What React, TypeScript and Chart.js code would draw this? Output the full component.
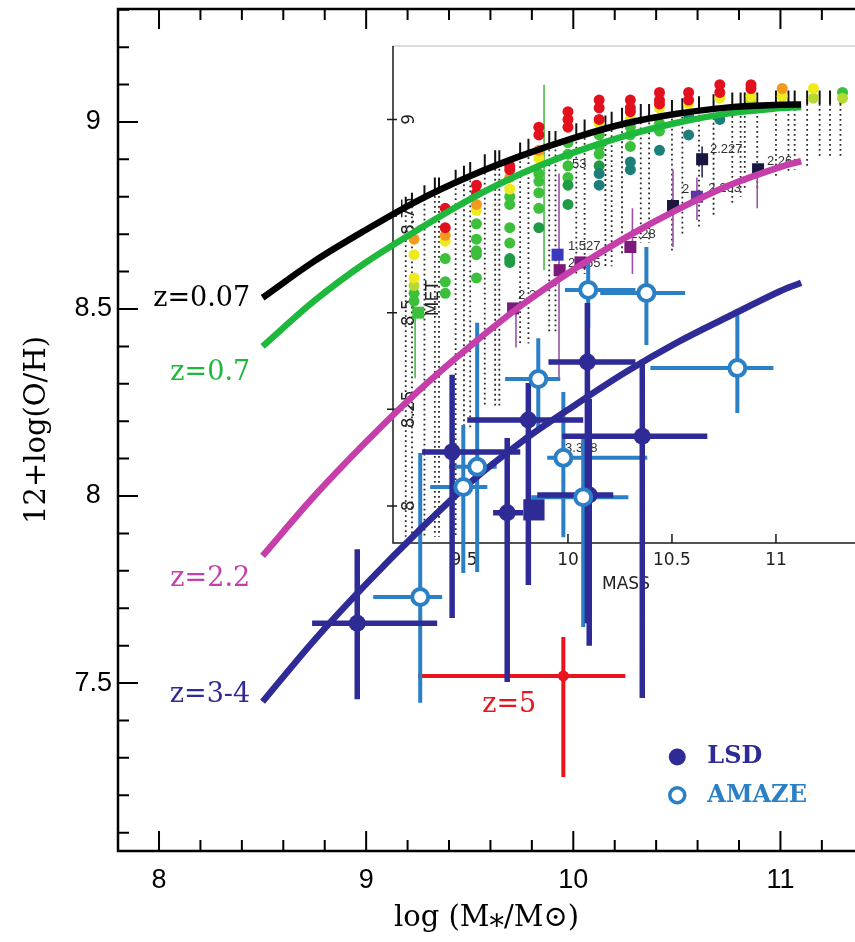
import React, { useEffect, useRef } from 'react';
import { Chart, registerables } from 'chart.js';

Chart.register(...registerables);

// ---------------- Main panel data (log M*, 12+log(O/H)) ----------------
const curveMass = [8.5, 8.75, 9.0, 9.25, 9.5, 9.75, 10.0, 10.25, 10.5, 10.75, 11.0, 11.1];
const metZ007 = [8.53, 8.628, 8.712, 8.79, 8.855, 8.91, 8.957, 8.996, 9.022, 9.039, 9.046, 9.047];
const metZ07 = [8.4, 8.522, 8.625, 8.712, 8.793, 8.862, 8.918, 8.963, 8.998, 9.023, 9.037, 9.04];
const metZ22 = [7.84, 8.0, 8.145, 8.28, 8.4, 8.51, 8.605, 8.69, 8.765, 8.83, 8.88, 8.895];
const metZ34 = [7.45, 7.615, 7.765, 7.905, 8.035, 8.145, 8.24, 8.33, 8.41, 8.48, 8.548, 8.57];

const lsdMass = [8.957, 9.415, 9.681, 9.783, 10.068, 10.333, 10.077];
const lsdMet = [7.66, 8.118, 7.955, 8.203, 8.358, 8.16, 8.003];
const lsdMassLo = [8.739, 9.27, 9.613, 9.488, 9.88, 9.947, 9.826];
const lsdMassHi = [9.343, 9.744, 9.758, 10.048, 10.3, 10.647, 10.193];
const lsdMetLo = [7.457, 7.674, 7.503, 7.762, 7.66, 7.46, 7.6];
const lsdMetHi = [7.858, 8.324, 8.155, 8.302, 8.516, 8.364, 8.26];
const lsdSquareMass = [9.81];
const lsdSquareMet = [7.963];

const amazeMass = [9.261, 9.469, 9.536, 9.831, 9.952, 10.048, 10.072, 10.353, 10.792];
const amazeMet = [7.73, 8.024, 8.078, 8.313, 8.102, 7.997, 8.551, 8.543, 8.342];
const amazeMassLo = [9.034, 9.309, 9.4, 9.671, 9.874, 9.797, 9.96, 10.13, 10.372];
const amazeMassHi = [9.367, 9.585, 9.63, 9.937, 10.357, 10.266, 10.3, 10.54, 10.966];
const amazeMetLo = [7.447, 7.794, 7.797, 8.171, 7.89, 7.65, 8.45, 8.404, 8.222];
const amazeMetHi = [8.115, 8.19, 8.463, 8.422, 8.278, 8.16, 8.64, 8.666, 8.492];

const z5Mass = [9.952];
const z5Met = [7.519];
const z5MassLo = [9.251];
const z5MassHi = [10.251];
const z5MetLo = [7.249];
const z5MetHi = [7.623];

const mainXTicks = [8, 9, 10, 11];
const mainYTicks = [7.5, 8, 8.5, 9];
const curveLabels = ['z=0.07', 'z=0.7', 'z=2.2', 'z=3-4', 'z=5'];
const legendLabels = ['LSD', 'AMAZE'];

// ---------------- Inset data (MASS, MET) ----------------
const insetXTicks = [9.5, 10, 10.5, 11];
const insetYTicks = [8, 8.25, 8.5, 8.75, 9];
const insetColMass = [9.22, 9.25, 9.31, 9.36, 9.38, 9.46, 9.5, 9.53, 9.6, 9.65, 9.67, 9.77, 9.81, 9.91, 9.94, 10.04, 10.08, 10.18, 10.21, 10.26, 10.35, 10.39, 10.5, 10.55, 10.63, 10.7, 10.79, 10.83, 10.85, 10.91, 11.0, 11.06, 11.09, 11.15, 11.21, 11.26, 11.31];
const insetColTop = [8.8, 8.81, 8.83, 8.85, 8.85, 8.87, 8.88, 8.89, 8.91, 8.92, 8.92, 8.94, 8.95, 8.97, 8.97, 8.99, 9.0, 9.01, 9.02, 9.03, 9.04, 9.04, 9.05, 9.055, 9.06, 9.065, 9.07, 9.07, 9.07, 9.07, 9.075, 9.075, 9.075, 9.075, 9.075, 9.075, 9.075];
const insetColBottom = [7.92, 7.92, 7.92, 7.92, 7.92, 7.92, 8.2, 8.2, 8.26, 8.26, 8.26, 8.42, 8.42, 8.45, 8.45, 8.6, 8.6, 8.62, 8.62, 8.65, 8.68, 8.68, 8.66, 8.7, 8.72, 8.75, 8.78, 8.8, 8.82, 8.82, 8.85, 8.86, 8.87, 8.88, 8.9, 8.9, 8.9];

const insetRed = [[9.41, 8.77], [9.41, 8.72], [9.56, 8.83], [9.56, 8.81], [9.72, 8.88], [9.72, 8.87], [9.86, 8.98], [9.86, 8.96], [10.0, 9.02], [10.0, 9.0], [10.0, 8.98], [10.15, 9.05], [10.15, 9.03], [10.15, 9.0], [10.3, 9.05], [10.3, 9.03], [10.3, 9.02], [10.44, 9.07], [10.44, 9.05], [10.44, 9.04], [10.58, 9.07], [10.58, 9.05], [10.73, 9.09], [10.73, 9.07], [10.88, 9.09], [10.88, 9.08]];
const insetOrange = [[9.26, 8.69], [9.41, 8.7], [9.56, 8.78], [9.72, 8.85], [9.86, 8.92], [11.03, 9.08]];
const insetYellow = [[9.26, 8.65], [9.26, 8.59], [9.41, 8.685], [9.56, 8.765], [9.72, 8.82], [9.86, 8.9], [10.15, 8.99], [10.3, 9.0], [10.44, 9.03], [10.58, 9.04], [10.73, 9.055], [10.88, 9.06], [11.03, 9.06], [11.18, 9.08]];
const insetLime = [[9.26, 8.57], [10.88, 9.05], [11.18, 9.055], [11.32, 9.055]];
const insetGreen = [[9.26, 8.55], [9.26, 8.53], [9.41, 8.64], [9.41, 8.58], [9.41, 8.55], [9.56, 8.73], [9.56, 8.69], [9.56, 8.66], [9.56, 8.65], [9.56, 8.59], [9.72, 8.8], [9.72, 8.78], [9.72, 8.72], [9.72, 8.68], [9.86, 8.86], [9.86, 8.84], [9.86, 8.81], [9.86, 8.77], [10.0, 8.94], [10.0, 8.91], [10.0, 8.88], [10.0, 8.85], [10.15, 8.96], [10.15, 8.93], [10.15, 8.91], [10.3, 8.98], [10.3, 8.96], [10.3, 8.93], [10.44, 8.99], [10.44, 8.97], [11.32, 9.07]];
const insetDarkGreen = [[9.72, 8.64], [9.72, 8.63], [9.86, 8.72], [10.0, 8.83], [10.0, 8.78], [10.15, 8.88]];
const insetTeal = [[10.15, 8.86], [10.15, 8.83], [10.3, 8.89], [10.3, 8.87], [10.44, 8.92], [10.58, 9.01], [10.58, 8.96], [10.73, 9.0]];

const insetGreenBars = [[9.885, 8.61, 9.09], [9.265, 8.33, 8.5]];
const insetPurpleBars = [[9.957, 8.33, 8.86], [9.75, 8.41, 8.5], [10.31, 8.6, 8.77], [10.62, 8.74, 8.85], [10.91, 8.77, 8.86], [10.505, 8.67, 8.87]];
const insetNavyBars = [[10.645, 8.85, 8.93]];

const insetNavySquares = [[10.645, 8.897], [10.914, 8.871], [10.505, 8.776]];
const insetVioletSquares = [[10.62, 8.8]];
const insetPlumSquares = [[10.3, 8.67], [9.96, 8.61], [10.06, 8.63], [9.736, 8.511]];
const insetBlueSquares = [[9.95, 8.65]];
const insetGreenSquares = [[9.28, 8.5]];

const insetNoteText = ['2.227', '2.26', '2', '2.263', '2.28', '1.527', '2.265', '2.2', '53', '3.328'];
const insetNoteMass = [10.683, 10.957, 10.548, 10.675, 10.3, 10.0, 10.0, 9.76, 10.02, 9.986];
const insetNoteMet = [8.923, 8.892, 8.82, 8.822, 8.703, 8.672, 8.628, 8.545, 8.884, 8.149];

// ---------------- helpers ----------------
const COL = {
  black: '#000000',
  green: '#1db83c',
  magenta: '#c63ea9',
  indigo: '#2e2a96',
  amaze: '#2a7fc5',
  red: '#e8141e',
};

const gap = () => ({ x: NaN, y: NaN });
const xy = (xs: number[], ys: number[]) => xs.map((x, i) => ({ x, y: ys[i] }));
const pairs = (a: number[][]) => a.map(([x, y]) => ({ x, y }));

function crossBars(xs: number[], ys: number[], xlo: number[], xhi: number[], ylo: number[], yhi: number[]) {
  const out: any[] = [];
  xs.forEach((x, i) => {
    out.push({ x: xlo[i], y: ys[i] }, { x: xhi[i], y: ys[i] }, gap());
    out.push({ x, y: ylo[i] }, { x, y: yhi[i] }, gap());
  });
  return out;
}
function vBars(list: number[][]) {
  const out: any[] = [];
  list.forEach(([x, lo, hi]) => out.push({ x, y: lo }, { x, y: hi }, gap()));
  return out;
}
function columns(xs: number[], top: number[], bottom: number[], cap: boolean) {
  const out: any[] = [];
  xs.forEach((x, i) => {
    if (cap) out.push({ x, y: top[i] }, { x, y: top[i] - 0.035 }, gap());
    else out.push({ x, y: top[i] - 0.035 }, { x, y: bottom[i] }, gap());
  });
  return out;
}

const lineDs = (data: any[], color: string, width: number, order: number, extra: any = {}) => ({
  data,
  showLine: true,
  borderColor: color,
  backgroundColor: color,
  borderWidth: width,
  pointRadius: 0,
  pointHoverRadius: 0,
  spanGaps: false,
  tension: 0,
  order,
  ...extra,
});

const SERIF = '"DejaVu Serif", serif';
const SANS = '"Liberation Sans", Arial, sans-serif';

const zeroPad = (s: any) => {
  s.paddingLeft = 0;
  s.paddingRight = 0;
  s.paddingTop = 0;
  s.paddingBottom = 0;
};

// ---------------- main chart decorations ----------------
const mainDecor = {
  id: 'mainDecor',
  beforeDatasetsDraw(chart: any) {
    const { ctx, chartArea: a, scales } = chart;
    const x = scales.x;
    const y = scales.y;
    ctx.save();
    ctx.strokeStyle = '#000';
    ctx.lineWidth = 2.5;
    ctx.beginPath();
    ctx.moveTo(a.right + 3, a.top);
    ctx.lineTo(a.left, a.top);
    ctx.lineTo(a.left, a.bottom);
    ctx.lineTo(a.right + 3, a.bottom);
    ctx.stroke();
    ctx.lineWidth = 2;
    ctx.beginPath();
    for (let k = 39; k <= 57; k++) {
      const v = k / 5;
      if (v < x.min || v > x.max) continue;
      const px = x.getPixelForValue(v);
      const L = k % 5 === 0 ? 20 : 11;
      ctx.moveTo(px, a.bottom);
      ctx.lineTo(px, a.bottom - L);
      ctx.moveTo(px, a.top);
      ctx.lineTo(px, a.top + L);
    }
    for (let k = 71; k <= 93; k++) {
      const v = k / 10;
      if (v < y.min || v > y.max) continue;
      const py = y.getPixelForValue(v);
      const L = k % 5 === 0 ? 20 : 11;
      ctx.moveTo(a.left, py);
      ctx.lineTo(a.left + L, py);
    }
    ctx.stroke();
    ctx.restore();
  },
  afterDatasetsDraw(chart: any) {
    const { ctx, scales } = chart;
    const x = scales.x;
    const y = scales.y;
    ctx.save();
    ctx.textBaseline = 'middle';
    ctx.font = `27px ${SERIF}`;
    const notes = [
      { t: curveLabels[0], x: 8.44, y: 8.527, c: COL.black, a: 'right' },
      { t: curveLabels[1], x: 8.44, y: 8.329, c: COL.green, a: 'right' },
      { t: curveLabels[2], x: 8.44, y: 7.778, c: COL.magenta, a: 'right' },
      { t: curveLabels[3], x: 8.44, y: 7.468, c: COL.indigo, a: 'right' },
      { t: curveLabels[4], x: 9.691, y: 7.441, c: COL.red, a: 'center' },
    ];
    notes.forEach((n) => {
      ctx.fillStyle = n.c;
      ctx.textAlign = n.a;
      ctx.fillText(n.t, x.getPixelForValue(n.x), y.getPixelForValue(n.y));
    });
    // legend
    const lx = x.getPixelForValue(10.502);
    const ly1 = y.getPixelForValue(7.302);
    const ly2 = y.getPixelForValue(7.2);
    ctx.fillStyle = COL.indigo;
    ctx.beginPath();
    ctx.arc(lx, ly1, 8.5, 0, Math.PI * 2);
    ctx.fill();
    ctx.strokeStyle = COL.amaze;
    ctx.lineWidth = 3.5;
    ctx.beginPath();
    ctx.arc(lx, ly2, 7.5, 0, Math.PI * 2);
    ctx.stroke();
    ctx.font = `bold 24px ${SERIF}`;
    ctx.textAlign = 'left';
    const tx = x.getPixelForValue(10.647);
    ctx.fillStyle = COL.indigo;
    ctx.fillText(legendLabels[0], tx, ly1);
    ctx.fillStyle = COL.amaze;
    ctx.fillText(legendLabels[1], tx, ly2);
    ctx.restore();
  },
};

// ---------------- inset decorations ----------------
const insetDecor = {
  id: 'insetDecor',
  beforeDatasetsDraw(chart: any) {
    const { ctx, chartArea: a, scales } = chart;
    const x = scales.x;
    const y = scales.y;
    ctx.save();
    ctx.strokeStyle = '#d0d0d0';
    ctx.lineWidth = 1.5;
    ctx.beginPath();
    ctx.moveTo(a.left, a.top);
    ctx.lineTo(a.right, a.top);
    ctx.stroke();
    ctx.strokeStyle = '#1a1a1a';
    ctx.beginPath();
    ctx.moveTo(a.left + 1, a.top);
    ctx.lineTo(a.left + 1, a.bottom);
    ctx.lineTo(a.right, a.bottom);
    insetXTicks.forEach((v) => {
      const px = x.getPixelForValue(v);
      ctx.moveTo(px, a.bottom);
      ctx.lineTo(px, a.bottom - 9);
    });
    insetYTicks.forEach((v) => {
      const py = y.getPixelForValue(v);
      ctx.moveTo(a.left - 5, py);
      ctx.lineTo(a.left + 5, py);
    });
    ctx.stroke();
    ctx.fillStyle = '#222';
    ctx.font = '17px "DejaVu Sans", sans-serif';
    ctx.textAlign = 'center';
    ctx.textBaseline = 'middle';
    insetXTicks.forEach((v) => {
      ctx.fillText(String(v), x.getPixelForValue(v), a.bottom + 18);
    });
    ctx.fillText('MASS', x.getPixelForValue(10.279), a.bottom + 42);
    const rot = (t: string, px: number, py: number) => {
      ctx.save();
      ctx.translate(px, py);
      ctx.rotate(-Math.PI / 2);
      ctx.fillText(t, 0, 0);
      ctx.restore();
    };
    insetYTicks.forEach((v) => rot(String(v), a.left + 18, y.getPixelForValue(v)));
    rot('MET', x.getPixelForValue(9.356), y.getPixelForValue(8.537));
    ctx.font = '13px "Liberation Sans", sans-serif';
    ctx.textAlign = 'left';
    ctx.fillStyle = '#333';
    insetNoteText.forEach((t, i) => {
      ctx.fillText(t, x.getPixelForValue(insetNoteMass[i]), y.getPixelForValue(insetNoteMet[i]));
    });
    ctx.restore();
  },
};

function mainConfig(): any {
  const curves = [
    [metZ007, COL.black],
    [metZ07, COL.green],
    [metZ22, COL.magenta],
    [metZ34, COL.indigo],
  ].map(([ys, c]: any, i) => lineDs(xy(curveMass, ys), c, 6.5, 20 + i, { tension: 0.35 }));
  return {
    type: 'scatter',
    data: {
      datasets: [
        ...curves,
        lineDs(crossBars(z5Mass, z5Met, z5MassLo, z5MassHi, z5MetLo, z5MetHi), COL.red, 4, 32),
        lineDs(crossBars(amazeMass, amazeMet, amazeMassLo, amazeMassHi, amazeMetLo, amazeMetHi), COL.amaze, 4, 31),
        lineDs(crossBars(lsdMass, lsdMet, lsdMassLo, lsdMassHi, lsdMetLo, lsdMetHi), COL.indigo, 5.5, 30),
        {
          data: xy(lsdSquareMass, lsdSquareMet),
          pointStyle: 'rect',
          pointRadius: 15,
          backgroundColor: COL.indigo,
          borderWidth: 0,
          order: 5,
        },
        {
          data: xy(lsdMass, lsdMet),
          pointRadius: 8.5,
          backgroundColor: COL.indigo,
          borderWidth: 0,
          order: 4,
        },
        {
          data: xy(amazeMass, amazeMet),
          pointRadius: 8,
          backgroundColor: '#ffffff',
          borderColor: COL.amaze,
          borderWidth: 4,
          order: 3,
        },
        {
          data: xy(z5Mass, z5Met),
          pointRadius: 5.5,
          backgroundColor: COL.red,
          borderWidth: 0,
          order: 2,
        },
      ],
    },
    options: {
      animation: false,
      responsive: false,
      devicePixelRatio: 1,
      events: [],
      layout: { autoPadding: false, padding: { left: 0, top: 9, right: 0, bottom: 0 } },
      plugins: { legend: { display: false }, tooltip: { enabled: false } },
      scales: {
        x: {
          type: 'linear',
          position: 'bottom',
          min: 7.802,
          max: 11.36,
          grid: { display: false, drawTicks: false },
          border: { display: false },
          afterBuildTicks: (s: any) => {
            s.ticks = mainXTicks.map((v) => ({ value: v }));
          },
          ticks: {
            autoSkip: false,
            maxRotation: 0,
            padding: 13,
            color: '#000',
            font: { family: SANS, size: 27 },
            callback: (v: any) => String(v),
          },
          title: {
            display: true,
            text: 'log (M⁎/M⊙)',
            color: '#000',
            font: { family: SERIF, size: 29 },
            padding: { top: 0, bottom: 6 },
          },
          afterFit: (s: any) => {
            s.height = 91;
            zeroPad(s);
          },
        },
        y: {
          type: 'linear',
          position: 'left',
          min: 7.051,
          max: 9.302,
          grid: { display: false, drawTicks: false },
          border: { display: false },
          afterBuildTicks: (s: any) => {
            s.ticks = mainYTicks.map((v) => ({ value: v }));
          },
          ticks: {
            autoSkip: false,
            crossAlign: 'center',
            padding: 6,
            color: '#000',
            font: { family: SANS, size: 27 },
            callback: (v: any) => String(v),
          },
          title: {
            display: true,
            text: '12+log(O/H)',
            color: '#000',
            font: { family: SERIF, size: 29 },
            padding: { top: 20, bottom: 0 },
          },
          afterFit: (s: any) => {
            s.width = 118;
            zeroPad(s);
          },
        },
      },
    },
    plugins: [mainDecor],
  };
}

function insetConfig(): any {
  const dots = (arr: number[][], color: string, order: number) => ({
    data: pairs(arr),
    pointRadius: 5.5,
    backgroundColor: color,
    borderWidth: 0,
    order,
  });
  const squares = (arr: number[][], color: string, order: number) => ({
    data: pairs(arr),
    pointStyle: 'rect',
    pointRadius: 8.5,
    backgroundColor: color,
    borderWidth: 0,
    order,
  });
  return {
    type: 'scatter',
    data: {
      datasets: [
        lineDs(columns(insetColMass, insetColTop, insetColBottom, false), '#2a2a2a', 1.8, 50, { borderDash: [1.8, 3.2] }),
        lineDs(columns(insetColMass, insetColTop, insetColBottom, true), '#111111', 2, 49),
        lineDs(vBars(insetGreenBars), '#4fb84a', 1.6, 40),
        lineDs(vBars(insetPurpleBars), '#9a52a8', 1.6, 39),
        lineDs(vBars(insetNavyBars), '#2a2a55', 1.6, 38),
        dots(insetGreen, '#3cc03c', 16),
        dots(insetDarkGreen, '#1f9a45', 15),
        dots(insetTeal, '#1d7f7a', 14),
        dots(insetLime, '#b5d832', 13),
        dots(insetYellow, '#eeea1e', 12),
        dots(insetOrange, '#f39a1e', 11),
        dots(insetRed, '#e3101e', 10),
        squares(insetPlumSquares, '#7c1a7c', 5),
        squares(insetVioletSquares, '#5e34a6', 5),
        squares(insetNavySquares, '#17173f', 5),
        squares(insetBlueSquares, '#3a3ac0', 4),
        squares(insetGreenSquares, '#3cc03c', 4),
      ],
    },
    options: {
      animation: false,
      responsive: false,
      devicePixelRatio: 1,
      events: [],
      layout: { autoPadding: false, padding: { left: 392, top: 46, right: 0, bottom: 399 } },
      plugins: { legend: { display: false }, tooltip: { enabled: false } },
      scales: {
        x: { type: 'linear', min: 9.154, max: 11.38, display: false },
        y: { type: 'linear', min: 7.904, max: 9.19, display: false },
      },
    },
    plugins: [insetDecor],
  };
}

export default function App() {
  const insetRef = useRef<HTMLCanvasElement | null>(null);
  const mainRef = useRef<HTMLCanvasElement | null>(null);
  useEffect(() => {
    const inset = new Chart(insetRef.current as HTMLCanvasElement, insetConfig());
    const main = new Chart(mainRef.current as HTMLCanvasElement, mainConfig());
    return () => {
      inset.destroy();
      main.destroy();
    };
  }, []);
  const cs: React.CSSProperties = { position: 'absolute', left: 0, top: 0, width: 855, height: 942 };
  return (
    <div style={{ position: 'fixed', left: 0, top: 0, width: 855, height: 942, background: '#ffffff', overflow: 'hidden' }}>
      <canvas ref={insetRef} width={855} height={942} style={cs} />
      <canvas ref={mainRef} width={855} height={942} style={cs} />
    </div>
  );
}
